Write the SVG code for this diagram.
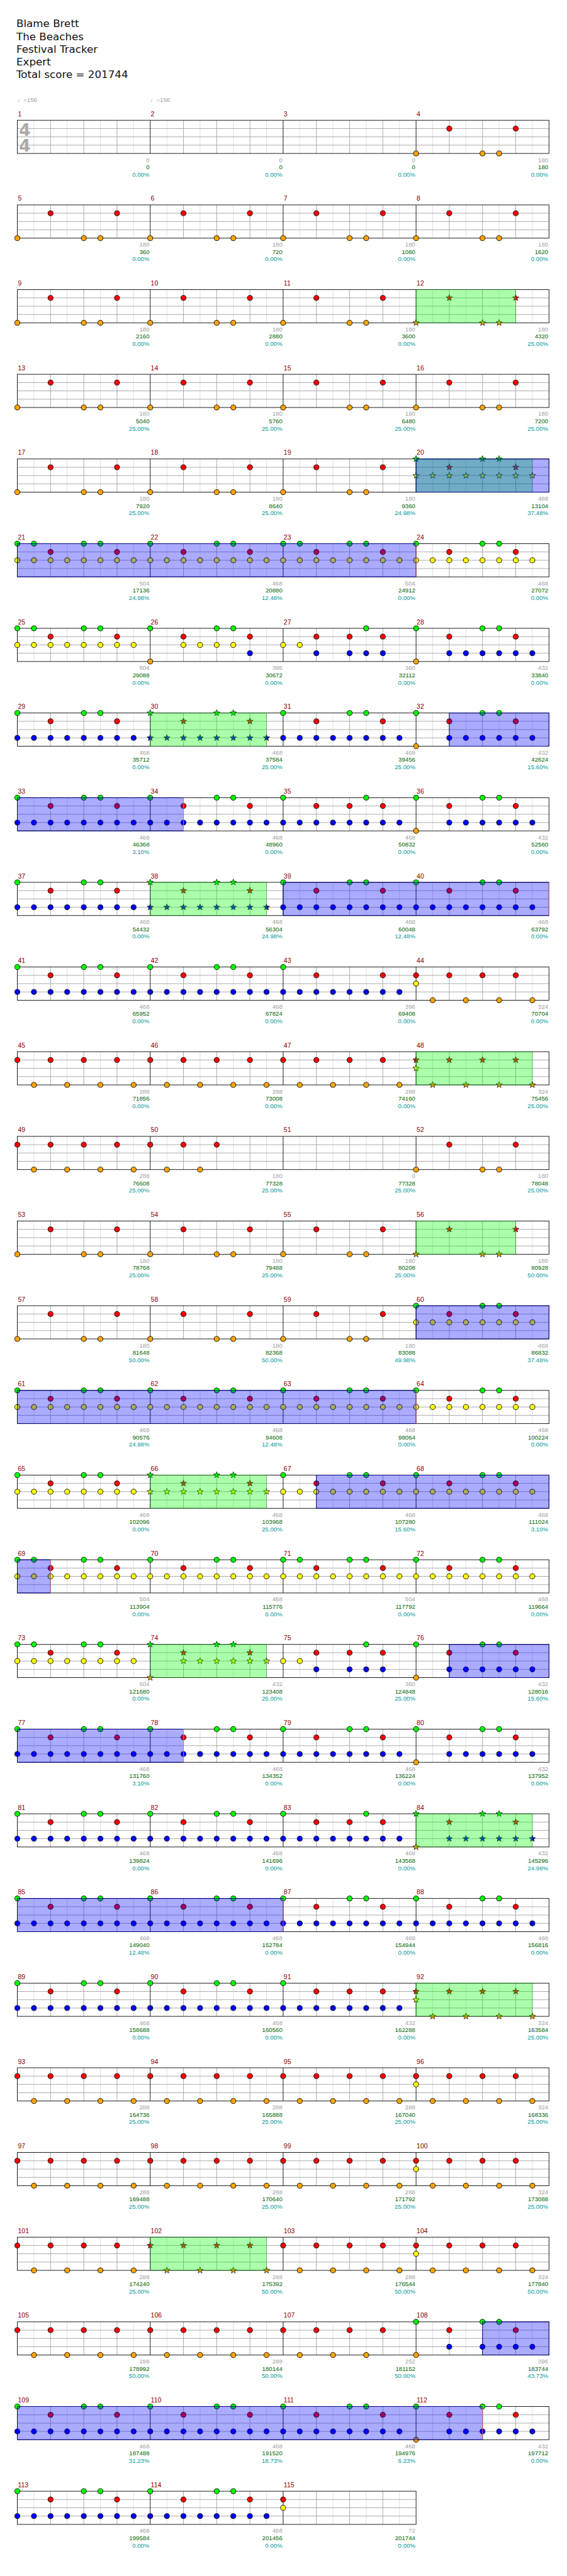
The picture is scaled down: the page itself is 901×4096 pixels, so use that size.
<svg xmlns="http://www.w3.org/2000/svg" width="901" height="4096" viewBox="0 0 901 4096">
<style>
.hd{font-family:"DejaVu Sans",Verdana,sans-serif;font-size:19px;fill:#111}
.n{font-family:"Liberation Sans",Arial,sans-serif;font-size:12px;fill:#8b0000}
.a,.c,.p{font-family:"Liberation Sans",Arial,sans-serif;font-size:11px;text-anchor:end}
.a{fill:#a0a0a0}.c{fill:#006400}.p{fill:#009999}
.tp{font-family:"Liberation Sans","DejaVu Sans",sans-serif;font-size:11px;fill:#a0a0a0}
.ts{font-family:"DejaVu Sans",sans-serif;font-weight:bold;font-size:30px;fill:#aaa}
.bl{fill:#00f;fill-opacity:.33;stroke:#000080}
.gr{fill:#0f0;fill-opacity:.33;stroke:#006400;stroke-opacity:.5}
.pk{stroke:#f08080;fill:none}
</style>
<defs>
<g id="st4">
<path stroke="#dcdcdc" d="M30 0V60M90 0V60M150 0V60M210 0V60M270 0V60M330 0V60M390 0V60M450 0V60M510 0V60M570 0V60M630 0V60M690 0V60M750 0V60M810 0V60M870 0V60M930 0V60"/>
<path stroke="#a0a0a0" d="M60 0V60M120 0V60M180 0V60M300 0V60M360 0V60M420 0V60M540 0V60M600 0V60M660 0V60M780 0V60M840 0V60M900 0V60M0 15H960M0 30H960M0 45H960"/>
<path stroke="#000" d="M240 0V60M480 0V60M720 0V60"/>
<rect width="960" height="60" fill="none" stroke="#000"/>
</g>
<g id="st3">
<path stroke="#dcdcdc" d="M30 0V60M90 0V60M150 0V60M210 0V60M270 0V60M330 0V60M390 0V60M450 0V60M510 0V60M570 0V60M630 0V60M690 0V60"/>
<path stroke="#a0a0a0" d="M60 0V60M120 0V60M180 0V60M300 0V60M360 0V60M420 0V60M540 0V60M600 0V60M660 0V60M0 15H720M0 30H720M0 45H720"/>
<path stroke="#000" d="M240 0V60M480 0V60"/>
<rect width="720" height="60" fill="none" stroke="#000"/>
</g>
<circle id="g" r="4.6" fill="#0f0" stroke="#000"/>
<circle id="r" r="4.6" fill="#f00" stroke="#000"/>
<circle id="y" r="4.6" fill="#ff0" stroke="#000"/>
<circle id="b" r="4.6" fill="#00f" stroke="#000"/>
<circle id="o" r="4.6" fill="#ffa500" stroke="#000"/>
<path id="sp" d="M0-6L1.47-2.02L5.71-1.85L2.38.77L3.53 4.85L0 2.5L-3.53 4.85L-2.38.77L-5.71-1.85L-1.47-2.02Z" stroke="#000" stroke-width=".8"/>
<use id="G" href="#sp" fill="#0f0"/>
<use id="R" href="#sp" fill="#f00"/>
<use id="Y" href="#sp" fill="#ff0"/>
<use id="B" href="#sp" fill="#00f"/>
<use id="O" href="#sp" fill="#ffa500"/>
<g id="g045"><use href="#g"/><use href="#g" x="120"/><use href="#g" x="150"/></g>
<g id="g0145"><use href="#g"/><use href="#g" x="30"/><use href="#g" x="120"/><use href="#g" x="150"/></g>
<g id="r26" transform="translate(0 15)"><use href="#r" x="60"/><use href="#r" x="180"/></g>
<g id="r246" transform="translate(0 15)"><use href="#r" x="60"/><use href="#r" x="120"/><use href="#r" x="180"/></g>
<g id="r0246" transform="translate(0 15)"><use href="#r"/><use href="#r" x="60"/><use href="#r" x="120"/><use href="#r" x="180"/></g>
<g id="y8" transform="translate(0 30)"><use href="#y"/><use href="#y" x="30"/><use href="#y" x="60"/><use href="#y" x="90"/><use href="#y" x="120"/><use href="#y" x="150"/><use href="#y" x="180"/><use href="#y" x="210"/></g>
<g id="b8" transform="translate(0 45)"><use href="#b"/><use href="#b" x="30"/><use href="#b" x="60"/><use href="#b" x="90"/><use href="#b" x="120"/><use href="#b" x="150"/><use href="#b" x="180"/><use href="#b" x="210"/></g>
<g id="b27" transform="translate(0 45)"><use href="#b" x="60"/><use href="#b" x="90"/><use href="#b" x="120"/><use href="#b" x="150"/><use href="#b" x="180"/><use href="#b" x="210"/></g>
<g id="o045" transform="translate(0 60)"><use href="#o"/><use href="#o" x="120"/><use href="#o" x="150"/></g>
<g id="o1357" transform="translate(0 60)"><use href="#o" x="30"/><use href="#o" x="90"/><use href="#o" x="150"/><use href="#o" x="210"/></g>
<g id="G045"><use href="#G"/><use href="#G" x="120"/><use href="#G" x="150"/></g>
<g id="R26" transform="translate(0 15)"><use href="#R" x="60"/><use href="#R" x="180"/></g>
<g id="R0246" transform="translate(0 15)"><use href="#R"/><use href="#R" x="60"/><use href="#R" x="120"/><use href="#R" x="180"/></g>
<g id="Y8" transform="translate(0 30)"><use href="#Y"/><use href="#Y" x="30"/><use href="#Y" x="60"/><use href="#Y" x="90"/><use href="#Y" x="120"/><use href="#Y" x="150"/><use href="#Y" x="180"/><use href="#Y" x="210"/></g>
<g id="Y27" transform="translate(0 30)"><use href="#Y" x="60"/><use href="#Y" x="90"/><use href="#Y" x="120"/><use href="#Y" x="150"/><use href="#Y" x="180"/><use href="#Y" x="210"/></g>
<g id="B8" transform="translate(0 45)"><use href="#B"/><use href="#B" x="30"/><use href="#B" x="60"/><use href="#B" x="90"/><use href="#B" x="120"/><use href="#B" x="150"/><use href="#B" x="180"/><use href="#B" x="210"/></g>
<g id="B27" transform="translate(0 45)"><use href="#B" x="60"/><use href="#B" x="90"/><use href="#B" x="120"/><use href="#B" x="150"/><use href="#B" x="180"/><use href="#B" x="210"/></g>
<g id="O045" transform="translate(0 60)"><use href="#O"/><use href="#O" x="120"/><use href="#O" x="150"/></g>
<g id="O1357" transform="translate(0 60)"><use href="#O" x="30"/><use href="#O" x="90"/><use href="#O" x="150"/><use href="#O" x="210"/></g>
<g id="K"><use href="#o045"/><use href="#r26"/></g>
<g id="Ks"><use href="#O045"/><use href="#R26"/></g>
<g id="AY"><use href="#g0145"/><use href="#r26"/><use href="#y8"/></g>
<g id="BY"><use href="#g045"/><use href="#r26"/><use href="#y8"/></g>
<g id="BYs"><use href="#G045"/><use href="#R26"/><use href="#Y8"/></g>
<g id="BB"><use href="#g045"/><use href="#r26"/><use href="#b8"/></g>
<g id="BBs"><use href="#G045"/><use href="#R26"/><use href="#B8"/></g>
<g id="P12"><use href="#o" y="60"/><use href="#g045"/><use href="#r26"/><use href="#b27"/></g>
<g id="P12s"><use href="#O" y="60"/><use href="#G045"/><use href="#R26"/><use href="#B27"/></g>
<g id="C35"><use href="#g"/><use href="#g" x="150"/><use href="#r246"/><use href="#b8"/></g>
<g id="RO"><use href="#r0246"/><use href="#o1357"/></g>
<g id="ROs"><use href="#R0246"/><use href="#O1357"/></g>
<g id="RYO"><use href="#RO"/><use href="#y" y="30"/></g>
<g id="RYOs"><use href="#ROs"/><use href="#Y" y="30"/></g>
<g id="T2"><use href="#y" y="30"/><use href="#y" x="30" y="30"/><use href="#r246"/><use href="#g" x="150"/><use href="#b" x="60" y="45"/><use href="#b" x="120" y="45"/><use href="#b" x="150" y="45"/><use href="#b" x="180" y="45"/></g>
</defs>
<rect width="901" height="4096" fill="#fff"/>
<g transform="scale(0.88)">
<g id="header" class="hd">
<text x="29.5" y="49.3">Blame Brett</text>
<text x="29.5" y="72.3">The Beaches</text>
<text x="29.5" y="95.3">Festival Tracker</text>
<text x="29.5" y="118.3">Expert</text>
<text x="29.5" y="141.3">Total score = 201744</text>
</g>

<g id="row1" transform="translate(31.3 217.3)">
<use href="#st4"/>
<text class="ts" x="3" y="27.7">4</text><text class="ts" x="3" y="56.7">4</text>
<text class="tp" y="-33"><tspan x="0">♩=156</tspan><tspan x="240">♩=156</tspan></text>
<use href="#K" x="720"/>
<text class="n" y="-7.3"><tspan x="1">1</tspan><tspan x="241">2</tspan><tspan x="481">3</tspan><tspan x="721">4</tspan></text>
<text class="a" y="75.4"><tspan x="238.7">0</tspan><tspan x="478.7">0</tspan><tspan x="718.7">0</tspan><tspan x="958.7">180</tspan></text>
<text class="c" y="88.4"><tspan x="238.7">0</tspan><tspan x="478.7">0</tspan><tspan x="718.7">0</tspan><tspan x="958.7">180</tspan></text>
<text class="p" y="101.7"><tspan x="238.7">0.00%</tspan><tspan x="478.7">0.00%</tspan><tspan x="718.7">0.00%</tspan><tspan x="958.7">0.00%</tspan></text>
</g>

<g id="row2" transform="translate(31.3 370.3)">
<use href="#st4"/>
<use href="#K"/><use href="#K" x="240"/><use href="#K" x="480"/><use href="#K" x="720"/>
<text class="n" y="-7.3"><tspan x="1">5</tspan><tspan x="241">6</tspan><tspan x="481">7</tspan><tspan x="721">8</tspan></text>
<text class="a" y="75.4"><tspan x="238.7">180</tspan><tspan x="478.7">180</tspan><tspan x="718.7">180</tspan><tspan x="958.7">180</tspan></text>
<text class="c" y="88.4"><tspan x="238.7">360</tspan><tspan x="478.7">720</tspan><tspan x="718.7">1080</tspan><tspan x="958.7">1620</tspan></text>
<text class="p" y="101.7"><tspan x="238.7">0.00%</tspan><tspan x="478.7">0.00%</tspan><tspan x="718.7">0.00%</tspan><tspan x="958.7">0.00%</tspan></text>
</g>

<g id="row3" transform="translate(31.3 523.3)">
<use href="#st4"/>
<use href="#K"/><use href="#K" x="240"/><use href="#K" x="480"/><use href="#Ks" x="720"/>
<rect class="gr" x="720" width="180" height="60"/>
<text class="n" y="-7.3"><tspan x="1">9</tspan><tspan x="241">10</tspan><tspan x="481">11</tspan><tspan x="721">12</tspan></text>
<text class="a" y="75.4"><tspan x="238.7">180</tspan><tspan x="478.7">180</tspan><tspan x="718.7">180</tspan><tspan x="958.7">180</tspan></text>
<text class="c" y="88.4"><tspan x="238.7">2160</tspan><tspan x="478.7">2880</tspan><tspan x="718.7">3600</tspan><tspan x="958.7">4320</tspan></text>
<text class="p" y="101.7"><tspan x="238.7">0.00%</tspan><tspan x="478.7">0.00%</tspan><tspan x="718.7">0.00%</tspan><tspan x="958.7">25.00%</tspan></text>
</g>

<g id="row4" transform="translate(31.3 676.3)">
<use href="#st4"/>
<use href="#K"/><use href="#K" x="240"/><use href="#K" x="480"/><use href="#K" x="720"/>
<text class="n" y="-7.3"><tspan x="1">13</tspan><tspan x="241">14</tspan><tspan x="481">15</tspan><tspan x="721">16</tspan></text>
<text class="a" y="75.4"><tspan x="238.7">180</tspan><tspan x="478.7">180</tspan><tspan x="718.7">180</tspan><tspan x="958.7">180</tspan></text>
<text class="c" y="88.4"><tspan x="238.7">5040</tspan><tspan x="478.7">5760</tspan><tspan x="718.7">6480</tspan><tspan x="958.7">7200</tspan></text>
<text class="p" y="101.7"><tspan x="238.7">25.00%</tspan><tspan x="478.7">25.00%</tspan><tspan x="718.7">25.00%</tspan><tspan x="958.7">25.00%</tspan></text>
</g>

<g id="row5" transform="translate(31.3 829.3)">
<use href="#st4"/>
<use href="#K"/><use href="#K" x="240"/><use href="#K" x="480"/><use href="#BYs" x="720"/>
<rect class="gr" x="720" width="210" height="60"/>
<rect class="bl" x="720" width="240" height="60"/>
<text class="n" y="-7.3"><tspan x="1">17</tspan><tspan x="241">18</tspan><tspan x="481">19</tspan><tspan x="721">20</tspan></text>
<text class="a" y="75.4"><tspan x="238.7">180</tspan><tspan x="478.7">180</tspan><tspan x="718.7">180</tspan><tspan x="958.7">468</tspan></text>
<text class="c" y="88.4"><tspan x="238.7">7920</tspan><tspan x="478.7">8640</tspan><tspan x="718.7">9360</tspan><tspan x="958.7">13104</tspan></text>
<text class="p" y="101.7"><tspan x="238.7">25.00%</tspan><tspan x="478.7">25.00%</tspan><tspan x="718.7">24.98%</tspan><tspan x="958.7">37.48%</tspan></text>
</g>

<g id="row6" transform="translate(31.3 982.3)">
<use href="#st4"/>
<use href="#AY"/><use href="#BY" x="240"/><use href="#AY" x="480"/><use href="#BY" x="720"/>
<rect class="bl" width="720" height="60"/><path class="pk" d="M720 0V60"/>
<text class="n" y="-7.3"><tspan x="1">21</tspan><tspan x="241">22</tspan><tspan x="481">23</tspan><tspan x="721">24</tspan></text>
<text class="a" y="75.4"><tspan x="238.7">504</tspan><tspan x="478.7">468</tspan><tspan x="718.7">504</tspan><tspan x="958.7">468</tspan></text>
<text class="c" y="88.4"><tspan x="238.7">17136</tspan><tspan x="478.7">20880</tspan><tspan x="718.7">24912</tspan><tspan x="958.7">27072</tspan></text>
<text class="p" y="101.7"><tspan x="238.7">24.98%</tspan><tspan x="478.7">12.48%</tspan><tspan x="718.7">0.00%</tspan><tspan x="958.7">0.00%</tspan></text>
</g>

<g id="row7" transform="translate(31.3 1135.3)">
<use href="#st4"/>
<use href="#AY"/>
<use href="#o" x="240" y="60"/><use href="#g045" x="240"/><use href="#r26" x="240"/><use href="#y" x="300" y="30"/><use href="#y" x="330" y="30"/><use href="#y" x="360" y="30"/><use href="#y" x="390" y="30"/><use href="#b" x="420" y="45"/>
<use href="#T2" x="480"/><use href="#P12" x="720"/>
<text class="n" y="-7.3"><tspan x="1">25</tspan><tspan x="241">26</tspan><tspan x="481">27</tspan><tspan x="721">28</tspan></text>
<text class="a" y="75.4"><tspan x="238.7">504</tspan><tspan x="478.7">396</tspan><tspan x="718.7">360</tspan><tspan x="958.7">432</tspan></text>
<text class="c" y="88.4"><tspan x="238.7">29088</tspan><tspan x="478.7">30672</tspan><tspan x="718.7">32112</tspan><tspan x="958.7">33840</tspan></text>
<text class="p" y="101.7"><tspan x="238.7">0.00%</tspan><tspan x="478.7">0.00%</tspan><tspan x="718.7">0.00%</tspan><tspan x="958.7">0.00%</tspan></text>
</g>

<g id="row8" transform="translate(31.3 1288.3)">
<use href="#st4"/>
<use href="#BB"/><use href="#BBs" x="240"/><use href="#BB" x="480"/><use href="#P12" x="720"/>
<rect class="gr" x="240" width="210" height="60"/>
<rect class="bl" x="780" width="180" height="60"/>
<text class="n" y="-7.3"><tspan x="1">29</tspan><tspan x="241">30</tspan><tspan x="481">31</tspan><tspan x="721">32</tspan></text>
<text class="a" y="75.4"><tspan x="238.7">468</tspan><tspan x="478.7">468</tspan><tspan x="718.7">468</tspan><tspan x="958.7">432</tspan></text>
<text class="c" y="88.4"><tspan x="238.7">35712</tspan><tspan x="478.7">37584</tspan><tspan x="718.7">39456</tspan><tspan x="958.7">42624</tspan></text>
<text class="p" y="101.7"><tspan x="238.7">0.00%</tspan><tspan x="478.7">25.00%</tspan><tspan x="718.7">25.00%</tspan><tspan x="958.7">15.60%</tspan></text>
</g>

<g id="row9" transform="translate(31.3 1441.3)">
<use href="#st4"/>
<use href="#BB"/><use href="#BB" x="240"/><use href="#C35" x="480"/><use href="#P12" x="720"/>
<rect class="bl" width="300" height="60"/><path class="pk" d="M300 0V60"/>
<text class="n" y="-7.3"><tspan x="1">33</tspan><tspan x="241">34</tspan><tspan x="481">35</tspan><tspan x="721">36</tspan></text>
<text class="a" y="75.4"><tspan x="238.7">468</tspan><tspan x="478.7">468</tspan><tspan x="718.7">468</tspan><tspan x="958.7">432</tspan></text>
<text class="c" y="88.4"><tspan x="238.7">46368</tspan><tspan x="478.7">48960</tspan><tspan x="718.7">50832</tspan><tspan x="958.7">52560</tspan></text>
<text class="p" y="101.7"><tspan x="238.7">3.10%</tspan><tspan x="478.7">0.00%</tspan><tspan x="718.7">0.00%</tspan><tspan x="958.7">0.00%</tspan></text>
</g>

<g id="row10" transform="translate(31.3 1594.3)">
<use href="#st4"/>
<use href="#BB"/><use href="#BBs" x="240"/><use href="#BB" x="480"/><use href="#BB" x="720"/>
<rect class="gr" x="240" width="210" height="60"/>
<rect class="bl" x="480" width="480" height="60"/><path class="pk" d="M960 0V60"/>
<text class="n" y="-7.3"><tspan x="1">37</tspan><tspan x="241">38</tspan><tspan x="481">39</tspan><tspan x="721">40</tspan></text>
<text class="a" y="75.4"><tspan x="238.7">468</tspan><tspan x="478.7">468</tspan><tspan x="718.7">468</tspan><tspan x="958.7">468</tspan></text>
<text class="c" y="88.4"><tspan x="238.7">54432</tspan><tspan x="478.7">56304</tspan><tspan x="718.7">60048</tspan><tspan x="958.7">63792</tspan></text>
<text class="p" y="101.7"><tspan x="238.7">0.00%</tspan><tspan x="478.7">24.98%</tspan><tspan x="718.7">12.48%</tspan><tspan x="958.7">0.00%</tspan></text>
</g>

<g id="row11" transform="translate(31.3 1747.3)">
<use href="#st4"/>
<use href="#BB"/><use href="#BB" x="240"/>
<use href="#g" x="480"/><use href="#r26" x="480"/><use href="#b8" x="480"/>
<use href="#RYO" x="720"/>
<text class="n" y="-7.3"><tspan x="1">41</tspan><tspan x="241">42</tspan><tspan x="481">43</tspan><tspan x="721">44</tspan></text>
<text class="a" y="75.4"><tspan x="238.7">468</tspan><tspan x="478.7">468</tspan><tspan x="718.7">396</tspan><tspan x="958.7">324</tspan></text>
<text class="c" y="88.4"><tspan x="238.7">65952</tspan><tspan x="478.7">67824</tspan><tspan x="718.7">69408</tspan><tspan x="958.7">70704</tspan></text>
<text class="p" y="101.7"><tspan x="238.7">0.00%</tspan><tspan x="478.7">0.00%</tspan><tspan x="718.7">0.00%</tspan><tspan x="958.7">0.00%</tspan></text>
</g>

<g id="row12" transform="translate(31.3 1900.3)">
<use href="#st4"/>
<use href="#RO"/><use href="#RO" x="240"/><use href="#RO" x="480"/><use href="#RYOs" x="720"/>
<rect class="gr" x="720" width="210" height="60"/>
<text class="n" y="-7.3"><tspan x="1">45</tspan><tspan x="241">46</tspan><tspan x="481">47</tspan><tspan x="721">48</tspan></text>
<text class="a" y="75.4"><tspan x="238.7">288</tspan><tspan x="478.7">288</tspan><tspan x="718.7">288</tspan><tspan x="958.7">324</tspan></text>
<text class="c" y="88.4"><tspan x="238.7">71856</tspan><tspan x="478.7">73008</tspan><tspan x="718.7">74160</tspan><tspan x="958.7">75456</tspan></text>
<text class="p" y="101.7"><tspan x="238.7">0.00%</tspan><tspan x="478.7">0.00%</tspan><tspan x="718.7">0.00%</tspan><tspan x="958.7">25.00%</tspan></text>
</g>

<g id="row13" transform="translate(31.3 2053.3)">
<use href="#st4"/>
<use href="#RO"/>
<use href="#r" x="240" y="15"/><use href="#r" x="300" y="15"/><use href="#r" x="360" y="15"/><use href="#o" x="270" y="60"/><use href="#o" x="330" y="60"/>
<use href="#K" x="720"/>
<text class="n" y="-7.3"><tspan x="1">49</tspan><tspan x="241">50</tspan><tspan x="481">51</tspan><tspan x="721">52</tspan></text>
<text class="a" y="75.4"><tspan x="238.7">288</tspan><tspan x="478.7">180</tspan><tspan x="718.7">0</tspan><tspan x="958.7">180</tspan></text>
<text class="c" y="88.4"><tspan x="238.7">76608</tspan><tspan x="478.7">77328</tspan><tspan x="718.7">77328</tspan><tspan x="958.7">78048</tspan></text>
<text class="p" y="101.7"><tspan x="238.7">25.00%</tspan><tspan x="478.7">25.00%</tspan><tspan x="718.7">25.00%</tspan><tspan x="958.7">25.00%</tspan></text>
</g>

<g id="row14" transform="translate(31.3 2206.3)">
<use href="#st4"/>
<use href="#K"/><use href="#K" x="240"/><use href="#K" x="480"/><use href="#Ks" x="720"/>
<rect class="gr" x="720" width="180" height="60"/>
<text class="n" y="-7.3"><tspan x="1">53</tspan><tspan x="241">54</tspan><tspan x="481">55</tspan><tspan x="721">56</tspan></text>
<text class="a" y="75.4"><tspan x="238.7">180</tspan><tspan x="478.7">180</tspan><tspan x="718.7">180</tspan><tspan x="958.7">180</tspan></text>
<text class="c" y="88.4"><tspan x="238.7">78768</tspan><tspan x="478.7">79488</tspan><tspan x="718.7">80208</tspan><tspan x="958.7">80928</tspan></text>
<text class="p" y="101.7"><tspan x="238.7">25.00%</tspan><tspan x="478.7">25.00%</tspan><tspan x="718.7">25.00%</tspan><tspan x="958.7">50.00%</tspan></text>
</g>

<g id="row15" transform="translate(31.3 2359.3)">
<use href="#st4"/>
<use href="#K"/><use href="#K" x="240"/><use href="#K" x="480"/><use href="#BY" x="720"/>
<rect class="bl" x="720" width="240" height="60"/>
<text class="n" y="-7.3"><tspan x="1">57</tspan><tspan x="241">58</tspan><tspan x="481">59</tspan><tspan x="721">60</tspan></text>
<text class="a" y="75.4"><tspan x="238.7">180</tspan><tspan x="478.7">180</tspan><tspan x="718.7">180</tspan><tspan x="958.7">468</tspan></text>
<text class="c" y="88.4"><tspan x="238.7">81648</tspan><tspan x="478.7">82368</tspan><tspan x="718.7">83088</tspan><tspan x="958.7">86832</tspan></text>
<text class="p" y="101.7"><tspan x="238.7">50.00%</tspan><tspan x="478.7">50.00%</tspan><tspan x="718.7">49.98%</tspan><tspan x="958.7">37.48%</tspan></text>
</g>

<g id="row16" transform="translate(31.3 2512.3)">
<use href="#st4"/>
<use href="#BY"/><use href="#BY" x="240"/><use href="#BY" x="480"/><use href="#BY" x="720"/>
<rect class="bl" width="720" height="60"/><path class="pk" d="M720 0V60"/>
<text class="n" y="-7.3"><tspan x="1">61</tspan><tspan x="241">62</tspan><tspan x="481">63</tspan><tspan x="721">64</tspan></text>
<text class="a" y="75.4"><tspan x="238.7">468</tspan><tspan x="478.7">468</tspan><tspan x="718.7">468</tspan><tspan x="958.7">468</tspan></text>
<text class="c" y="88.4"><tspan x="238.7">90576</tspan><tspan x="478.7">94608</tspan><tspan x="718.7">98064</tspan><tspan x="958.7">100224</tspan></text>
<text class="p" y="101.7"><tspan x="238.7">24.98%</tspan><tspan x="478.7">12.48%</tspan><tspan x="718.7">0.00%</tspan><tspan x="958.7">0.00%</tspan></text>
</g>

<g id="row17" transform="translate(31.3 2665.3)">
<use href="#st4"/>
<use href="#BY"/><use href="#BYs" x="240"/><use href="#BY" x="480"/><use href="#BY" x="720"/>
<rect class="gr" x="240" width="210" height="60"/>
<rect class="bl" x="540" width="420" height="60"/>
<text class="n" y="-7.3"><tspan x="1">65</tspan><tspan x="241">66</tspan><tspan x="481">67</tspan><tspan x="721">68</tspan></text>
<text class="a" y="75.4"><tspan x="238.7">468</tspan><tspan x="478.7">468</tspan><tspan x="718.7">468</tspan><tspan x="958.7">468</tspan></text>
<text class="c" y="88.4"><tspan x="238.7">102096</tspan><tspan x="478.7">103968</tspan><tspan x="718.7">107280</tspan><tspan x="958.7">111024</tspan></text>
<text class="p" y="101.7"><tspan x="238.7">0.00%</tspan><tspan x="478.7">25.00%</tspan><tspan x="718.7">15.60%</tspan><tspan x="958.7">3.10%</tspan></text>
</g>

<g id="row18" transform="translate(31.3 2818.3)">
<use href="#st4"/>
<use href="#AY"/><use href="#BY" x="240"/><use href="#AY" x="480"/><use href="#BY" x="720"/>
<rect class="bl" width="60" height="60"/><path class="pk" d="M60 0V60"/>
<text class="n" y="-7.3"><tspan x="1">69</tspan><tspan x="241">70</tspan><tspan x="481">71</tspan><tspan x="721">72</tspan></text>
<text class="a" y="75.4"><tspan x="238.7">504</tspan><tspan x="478.7">468</tspan><tspan x="718.7">504</tspan><tspan x="958.7">468</tspan></text>
<text class="c" y="88.4"><tspan x="238.7">113904</tspan><tspan x="478.7">115776</tspan><tspan x="718.7">117792</tspan><tspan x="958.7">119664</tspan></text>
<text class="p" y="101.7"><tspan x="238.7">0.00%</tspan><tspan x="478.7">0.00%</tspan><tspan x="718.7">0.00%</tspan><tspan x="958.7">0.00%</tspan></text>
</g>

<g id="row19" transform="translate(31.3 2971.3)">
<use href="#st4"/>
<use href="#AY"/>
<use href="#O" x="240" y="60"/><use href="#G045" x="240"/><use href="#R26" x="240"/><use href="#Y27" x="240"/>
<use href="#T2" x="480"/><use href="#P12" x="720"/>
<rect class="gr" x="240" width="210" height="60"/>
<rect class="bl" x="780" width="180" height="60"/>
<text class="n" y="-7.3"><tspan x="1">73</tspan><tspan x="241">74</tspan><tspan x="481">75</tspan><tspan x="721">76</tspan></text>
<text class="a" y="75.4"><tspan x="238.7">504</tspan><tspan x="478.7">432</tspan><tspan x="718.7">360</tspan><tspan x="958.7">432</tspan></text>
<text class="c" y="88.4"><tspan x="238.7">121680</tspan><tspan x="478.7">123408</tspan><tspan x="718.7">124848</tspan><tspan x="958.7">128016</tspan></text>
<text class="p" y="101.7"><tspan x="238.7">0.00%</tspan><tspan x="478.7">25.00%</tspan><tspan x="718.7">25.00%</tspan><tspan x="958.7">15.60%</tspan></text>
</g>

<g id="row20" transform="translate(31.3 3124.3)">
<use href="#st4"/>
<use href="#BB"/><use href="#BB" x="240"/><use href="#BB" x="480"/><use href="#P12" x="720"/>
<rect class="bl" width="300" height="60"/><path class="pk" d="M300 0V60"/>
<text class="n" y="-7.3"><tspan x="1">77</tspan><tspan x="241">78</tspan><tspan x="481">79</tspan><tspan x="721">80</tspan></text>
<text class="a" y="75.4"><tspan x="238.7">468</tspan><tspan x="478.7">468</tspan><tspan x="718.7">468</tspan><tspan x="958.7">432</tspan></text>
<text class="c" y="88.4"><tspan x="238.7">131760</tspan><tspan x="478.7">134352</tspan><tspan x="718.7">136224</tspan><tspan x="958.7">137952</tspan></text>
<text class="p" y="101.7"><tspan x="238.7">3.10%</tspan><tspan x="478.7">0.00%</tspan><tspan x="718.7">0.00%</tspan><tspan x="958.7">0.00%</tspan></text>
</g>

<g id="row21" transform="translate(31.3 3277.3)">
<use href="#st4"/>
<use href="#BB"/><use href="#BB" x="240"/><use href="#C35" x="480"/><use href="#P12s" x="720"/>
<rect class="gr" x="720" width="210" height="60"/>
<text class="n" y="-7.3"><tspan x="1">81</tspan><tspan x="241">82</tspan><tspan x="481">83</tspan><tspan x="721">84</tspan></text>
<text class="a" y="75.4"><tspan x="238.7">468</tspan><tspan x="478.7">468</tspan><tspan x="718.7">468</tspan><tspan x="958.7">432</tspan></text>
<text class="c" y="88.4"><tspan x="238.7">139824</tspan><tspan x="478.7">141696</tspan><tspan x="718.7">143568</tspan><tspan x="958.7">145296</tspan></text>
<text class="p" y="101.7"><tspan x="238.7">0.00%</tspan><tspan x="478.7">0.00%</tspan><tspan x="718.7">0.00%</tspan><tspan x="958.7">24.98%</tspan></text>
</g>

<g id="row22" transform="translate(31.3 3430.3)">
<use href="#st4"/>
<use href="#BB"/><use href="#BB" x="240"/><use href="#BB" x="480"/><use href="#BB" x="720"/>
<rect class="bl" width="480" height="60"/><path class="pk" d="M480 0V60"/>
<text class="n" y="-7.3"><tspan x="1">85</tspan><tspan x="241">86</tspan><tspan x="481">87</tspan><tspan x="721">88</tspan></text>
<text class="a" y="75.4"><tspan x="238.7">468</tspan><tspan x="478.7">468</tspan><tspan x="718.7">468</tspan><tspan x="958.7">468</tspan></text>
<text class="c" y="88.4"><tspan x="238.7">149040</tspan><tspan x="478.7">152784</tspan><tspan x="718.7">154944</tspan><tspan x="958.7">156816</tspan></text>
<text class="p" y="101.7"><tspan x="238.7">12.48%</tspan><tspan x="478.7">0.00%</tspan><tspan x="718.7">0.00%</tspan><tspan x="958.7">0.00%</tspan></text>
</g>

<g id="row23" transform="translate(31.3 3583.3)">
<use href="#st4"/>
<use href="#BB"/><use href="#BB" x="240"/>
<use href="#g" x="480"/><use href="#r246" x="480"/><use href="#b8" x="480"/>
<use href="#RYOs" x="720"/>
<rect class="gr" x="720" width="210" height="60"/>
<text class="n" y="-7.3"><tspan x="1">89</tspan><tspan x="241">90</tspan><tspan x="481">91</tspan><tspan x="721">92</tspan></text>
<text class="a" y="75.4"><tspan x="238.7">468</tspan><tspan x="478.7">468</tspan><tspan x="718.7">432</tspan><tspan x="958.7">324</tspan></text>
<text class="c" y="88.4"><tspan x="238.7">158688</tspan><tspan x="478.7">160560</tspan><tspan x="718.7">162288</tspan><tspan x="958.7">163584</tspan></text>
<text class="p" y="101.7"><tspan x="238.7">0.00%</tspan><tspan x="478.7">0.00%</tspan><tspan x="718.7">0.00%</tspan><tspan x="958.7">25.00%</tspan></text>
</g>

<g id="row24" transform="translate(31.3 3736.3)">
<use href="#st4"/>
<use href="#RO"/><use href="#RO" x="240"/><use href="#RO" x="480"/><use href="#RYO" x="720"/>
<text class="n" y="-7.3"><tspan x="1">93</tspan><tspan x="241">94</tspan><tspan x="481">95</tspan><tspan x="721">96</tspan></text>
<text class="a" y="75.4"><tspan x="238.7">288</tspan><tspan x="478.7">288</tspan><tspan x="718.7">288</tspan><tspan x="958.7">324</tspan></text>
<text class="c" y="88.4"><tspan x="238.7">164736</tspan><tspan x="478.7">165888</tspan><tspan x="718.7">167040</tspan><tspan x="958.7">168336</tspan></text>
<text class="p" y="101.7"><tspan x="238.7">25.00%</tspan><tspan x="478.7">25.00%</tspan><tspan x="718.7">25.00%</tspan><tspan x="958.7">25.00%</tspan></text>
</g>

<g id="row25" transform="translate(31.3 3889.3)">
<use href="#st4"/>
<use href="#RO"/><use href="#RO" x="240"/><use href="#RO" x="480"/><use href="#RYO" x="720"/>
<text class="n" y="-7.3"><tspan x="1">97</tspan><tspan x="241">98</tspan><tspan x="481">99</tspan><tspan x="721">100</tspan></text>
<text class="a" y="75.4"><tspan x="238.7">288</tspan><tspan x="478.7">288</tspan><tspan x="718.7">288</tspan><tspan x="958.7">324</tspan></text>
<text class="c" y="88.4"><tspan x="238.7">169488</tspan><tspan x="478.7">170640</tspan><tspan x="718.7">171792</tspan><tspan x="958.7">173088</tspan></text>
<text class="p" y="101.7"><tspan x="238.7">25.00%</tspan><tspan x="478.7">25.00%</tspan><tspan x="718.7">25.00%</tspan><tspan x="958.7">25.00%</tspan></text>
</g>

<g id="row26" transform="translate(31.3 4042.3)">
<use href="#st4"/>
<use href="#RO"/><use href="#ROs" x="240"/><use href="#RO" x="480"/><use href="#RYO" x="720"/>
<rect class="gr" x="240" width="210" height="60"/>
<text class="n" y="-7.3"><tspan x="1">101</tspan><tspan x="241">102</tspan><tspan x="481">103</tspan><tspan x="721">104</tspan></text>
<text class="a" y="75.4"><tspan x="238.7">288</tspan><tspan x="478.7">288</tspan><tspan x="718.7">288</tspan><tspan x="958.7">324</tspan></text>
<text class="c" y="88.4"><tspan x="238.7">174240</tspan><tspan x="478.7">175392</tspan><tspan x="718.7">176544</tspan><tspan x="958.7">177840</tspan></text>
<text class="p" y="101.7"><tspan x="238.7">25.00%</tspan><tspan x="478.7">50.00%</tspan><tspan x="718.7">50.00%</tspan><tspan x="958.7">50.00%</tspan></text>
</g>

<g id="row27" transform="translate(31.3 4195.3)">
<use href="#st4"/>
<use href="#RO"/><use href="#RO" x="240"/>
<use href="#r0246" x="480"/><use href="#o" x="510" y="60"/><use href="#o" x="570" y="60"/><use href="#o" x="630" y="60"/>
<use href="#o" x="720" y="60"/><use href="#g045" x="720"/><use href="#r26" x="720"/><use href="#b" x="780" y="45"/><use href="#b" x="840" y="45"/><use href="#b" x="870" y="45"/><use href="#b" x="900" y="45"/><use href="#b" x="930" y="45"/>
<rect class="bl" x="840" width="120" height="60"/>
<text class="n" y="-7.3"><tspan x="1">105</tspan><tspan x="241">106</tspan><tspan x="481">107</tspan><tspan x="721">108</tspan></text>
<text class="a" y="75.4"><tspan x="238.7">288</tspan><tspan x="478.7">288</tspan><tspan x="718.7">252</tspan><tspan x="958.7">396</tspan></text>
<text class="c" y="88.4"><tspan x="238.7">178992</tspan><tspan x="478.7">180144</tspan><tspan x="718.7">181152</tspan><tspan x="958.7">183744</tspan></text>
<text class="p" y="101.7"><tspan x="238.7">50.00%</tspan><tspan x="478.7">50.00%</tspan><tspan x="718.7">50.00%</tspan><tspan x="958.7">43.73%</tspan></text>
</g>

<g id="row28" transform="translate(31.3 4348.3)">
<use href="#st4"/>
<use href="#BB"/><use href="#BB" x="240"/><use href="#BB" x="480"/><use href="#P12" x="720"/>
<rect class="bl" width="840" height="60"/><path class="pk" d="M840 0V60"/>
<text class="n" y="-7.3"><tspan x="1">109</tspan><tspan x="241">110</tspan><tspan x="481">111</tspan><tspan x="721">112</tspan></text>
<text class="a" y="75.4"><tspan x="238.7">468</tspan><tspan x="478.7">468</tspan><tspan x="718.7">468</tspan><tspan x="958.7">432</tspan></text>
<text class="c" y="88.4"><tspan x="238.7">187488</tspan><tspan x="478.7">191520</tspan><tspan x="718.7">194976</tspan><tspan x="958.7">197712</tspan></text>
<text class="p" y="101.7"><tspan x="238.7">31.23%</tspan><tspan x="478.7">18.73%</tspan><tspan x="718.7">6.23%</tspan><tspan x="958.7">0.00%</tspan></text>
</g>

<g id="row29" transform="translate(31.3 4501.3)">
<use href="#st3"/>
<use href="#BB"/><use href="#BB" x="240"/>
<use href="#r" x="480" y="15"/><use href="#y" x="480" y="30"/>
<text class="n" y="-7.3"><tspan x="1">113</tspan><tspan x="241">114</tspan><tspan x="481">115</tspan></text>
<text class="a" y="75.4"><tspan x="238.7">468</tspan><tspan x="478.7">468</tspan><tspan x="718.7">72</tspan></text>
<text class="c" y="88.4"><tspan x="238.7">199584</tspan><tspan x="478.7">201456</tspan><tspan x="718.7">201744</tspan></text>
<text class="p" y="101.7"><tspan x="238.7">0.00%</tspan><tspan x="478.7">0.00%</tspan><tspan x="718.7">0.00%</tspan></text>
</g>
</g>
</svg>
